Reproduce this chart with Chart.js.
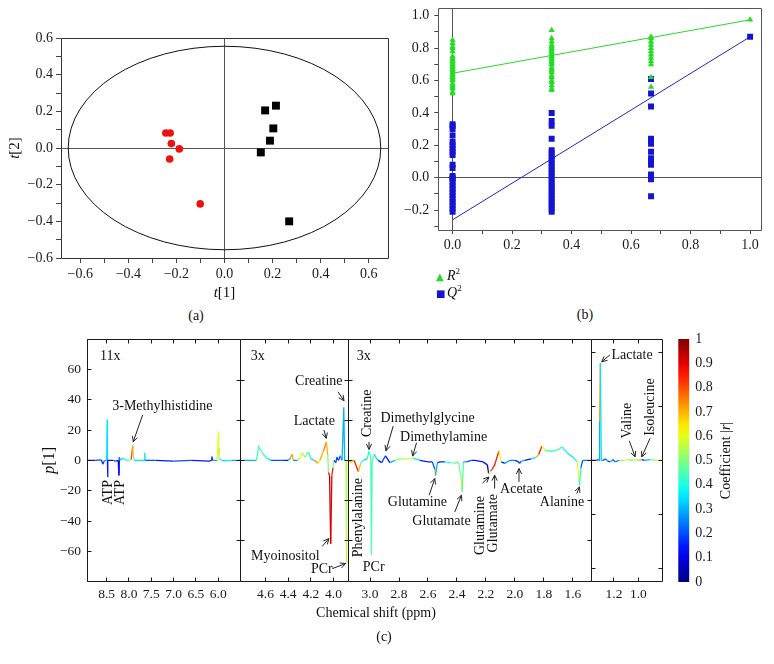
<!DOCTYPE html>
<html><head><meta charset="utf-8"><title>Multivariate analysis figure</title>
<script src="https://cdn.jsdelivr.net/npm/chart.js@4/dist/chart.umd.min.js"></script>
<style>
html,body{margin:0;padding:0;background:#fff}
#wrap{position:relative;width:774px;height:664px;overflow:hidden;background:#fff;font-family:"Liberation Serif","Times New Roman",serif;color:#111}
#wrap canvas{position:absolute}
.t{position:absolute;font-size:14px;line-height:1;white-space:nowrap;transform:translate(-50%,-50%)}
.lg{position:absolute;font-size:14px;line-height:1;white-space:nowrap;transform:translateY(-50%)}
.lg sup{font-size:9px;vertical-align:6px}
</style></head><body>
<div id="wrap">
 <canvas id="cA" width="400" height="300" style="left:0;top:0"></canvas>
 <canvas id="cB" width="384" height="260" style="left:390px;top:0"></canvas>
 <canvas id="cS1" width="774" height="334" style="left:0;top:330px"></canvas>
 <canvas id="cS2" width="774" height="334" style="left:0;top:330px"></canvas>
 <canvas id="cS3" width="774" height="334" style="left:0;top:330px"></canvas>
 <canvas id="cS4" width="774" height="334" style="left:0;top:330px"></canvas>
 <canvas id="cCB" width="80" height="262" style="left:660px;top:330px"></canvas>
 <div class="t" style="left:196px;top:316px">(a)</div>
 <div class="t" style="left:585px;top:315px">(b)</div>
 <div class="lg" style="left:436px;top:275px"><span style="color:#22dd22;font-family:'DejaVu Sans';font-size:10px;display:inline-block;width:11px">&#9650;</span><i>R</i><sup>2</sup></div>
 <div class="lg" style="left:436px;top:292px"><span style="color:#1414d2;font-family:'DejaVu Sans';font-size:10px;display:inline-block;width:11px">&#9632;</span><i>Q</i><sup>2</sup></div>
 <div class="t" style="left:376px;top:613px">Chemical shift (ppm)</div>
 <div class="t" style="left:384px;top:637px">(c)</div>
</div>
<script>
// ---------------- Panel (a): score plot ----------------
const groupRedT1   = [-0.244, -0.226, -0.221, -0.188, -0.228, -0.101];
const groupRedT2   = [0.082, 0.082, 0.024, -0.005, -0.060, -0.305];
const groupBlackT1 = [0.169, 0.214, 0.203, 0.189, 0.151, 0.269];
const groupBlackT2 = [0.205, 0.231, 0.107, 0.040, -0.024, -0.400];
const ellipseRadii = [0.65, 0.555];

// ---------------- Panel (b): permutation test ----------------
const permX   = [0, 0.333, 0.667, 1];
const r2Col0  = [0.52,0.53,0.55,0.56,0.57,0.58,0.60,0.61,0.62,0.63,0.64,0.65,0.66,0.67,0.68,0.69,0.70,0.71,0.72,0.73,0.74,0.75,0.78,0.80,0.81,0.83,0.85];
const r2Col1  = [0.54,0.55,0.57,0.59,0.60,0.62,0.63,0.65,0.66,0.67,0.68,0.70,0.71,0.72,0.73,0.74,0.75,0.76,0.77,0.78,0.79,0.80,0.81,0.82,0.84,0.86,0.91];
const r2Col2  = [0.56,0.62,0.70,0.72,0.74,0.76,0.78,0.80,0.82,0.84,0.86,0.87];
const r2Col3  = [0.975];
const q2Col0  = [-0.21,-0.19,-0.17,-0.15,-0.13,-0.11,-0.09,-0.07,-0.05,-0.03,-0.01,0.00,0.01,0.06,0.08,0.14,0.16,0.18,0.20,0.22,0.26,0.30,0.32,0.33];
const q2Col1  = [-0.21,-0.19,-0.17,-0.15,-0.13,-0.11,-0.09,-0.07,-0.05,-0.03,-0.01,0.01,0.03,0.05,0.07,0.09,0.11,0.13,0.15,0.17,0.24,0.32,0.35,0.40];
const q2Col2  = [-0.115,-0.01,0.01,0.02,0.08,0.10,0.12,0.16,0.21,0.23,0.24,0.44,0.52,0.61];
const q2Col3  = [0.87];
const fitX    = [0, 1];
const r2Fit   = [0.645, 0.975];
const q2Fit   = [-0.26, 0.87];

// ---------------- Panel (c): loadings spectrum, 4 ppm windows ----------------
const seg1Ppm = [8.94,8.75,8.62,8.58,8.55,8.50,8.488,8.482,8.478,8.47,8.35,8.30,8.24,8.225,8.215,8.20,8.14,8.10,8.00,7.95,7.915,7.905,7.88,7.66,7.645,7.635,7.40,7.00,6.60,6.20,6.15,6.14,6.13,6.02,5.995,5.99,5.985,5.975,5.93,5.80,5.70,5.50];
const seg1P   = [0,0,0.3,-2.5,0,0,27,0,-11,0,0,-0.5,0,-10,2,0,1.5,0.5,0,0.5,9.6,3,0,0,5,0,0,-0.5,0,-0.5,0,2.5,0,0,19,4,8,1,0,-0.3,0,0];
const seg1R   = [0.15,0.2,0.15,0.2,0.3,0.35,0.35,0.15,0.15,0.15,0.2,0.15,0.12,0.15,0.25,0.35,0.4,0.4,0.55,0.8,0.7,0.45,0.35,0.35,0.35,0.2,0.15,0.2,0.15,0.15,0.1,0.1,0.3,0.6,0.6,0.65,0.55,0.4,0.35,0.35,0.3,0.3];

const seg2Ppm = [4.82,4.68,4.66,4.62,4.58,4.55,4.45,4.40,4.38,4.365,4.355,4.32,4.29,4.277,4.25,4.232,4.218,4.20,4.17,4.14,4.12,4.09,4.064,4.05,4.045,4.035,4.025,4.015,4.005,3.995,3.98,3.97,3.955,3.94,3.925,3.91,3.902,3.89,3.885,3.87];
const seg2P   = [0,0,9,4,1,0,0,0,1.5,4,0,0,2,5,2,5,5,1,0,-2,0,6,12,3,-8,-10,-55,-10,-5,0,-1.5,2,0,3,0,35,0,0,-67,-67];
const seg2R   = [0.3,0.45,0.45,0.4,0.35,0.2,0.15,0.3,0.75,0.7,0.25,0.55,0.6,0.55,0.5,0.45,0.4,0.35,0.75,0.65,0.7,0.75,0.7,0.5,0.9,0.95,0.9,0.85,0.5,0.15,0.2,0.15,0.2,0.25,0.3,0.3,0.4,0.55,0.55,0.55];

const seg3Ppm = [3.15,3.127,3.11,3.08,3.065,3.047,3.02,3.007,2.995,2.99,2.985,2.97,2.955,2.943,2.92,2.893,2.863,2.828,2.794,2.75,2.702,2.656,2.60,2.57,2.552,2.548,2.535,2.518,2.484,2.44,2.415,2.39,2.37,2.365,2.355,2.335,2.30,2.277,2.22,2.19,2.181,2.17,2.158,2.14,2.11,2.094,2.07,2.036,2.0,1.975,1.967,1.955,1.933,1.887,1.853,1.835,1.814,1.79,1.745,1.70,1.676,1.64,1.60,1.57,1.554,1.545,1.532,1.50,1.47];
const seg3P   = [0,-1.5,0,-7.5,-2,0,1,6,2,-62.6,0,4,1,0,-1.5,3,-1.5,0,1,1,1.5,0,-1,-1,-6,-10,-1.5,-1,-1,-1.5,-2,-1,-12,-20.8,-1,-1,0,0,-1,-3,-9,-7,-6,-3,6.3,-1,-2,0,0,-1,-2,-0.5,0,1,2,4,9.4,6.5,6,7,9,5,2,-1,-16.4,-5,0,0,0];
const seg3R   = [0.7,0.65,0.85,0.7,0.4,0.35,0.4,0.45,0.45,0.45,0.45,0.35,0.3,0.15,0.2,0.15,0.3,0.5,0.55,0.6,0.35,0.15,0.15,0.2,0.7,0.3,0.15,0.15,0.4,0.5,0.45,0.5,0.65,0.45,0.3,0.2,0.15,0.15,0.15,0.1,0.6,0.8,0.85,0.85,0.6,0.15,0.3,0.25,0.15,0.1,0.2,0.3,0.15,0.35,0.7,0.85,0.6,0.45,0.45,0.45,0.4,0.35,0.4,0.6,0.4,0.2,0.25,0.25,0.25];

const seg4Ppm = [1.383,1.35,1.325,1.322,1.318,1.312,1.304,1.29,1.27,1.25,1.23,1.21,1.19,1.16,1.12,1.08,1.05,1.027,1.00,0.972,0.95,0.90,0.85,0.80];
const seg4P   = [0,0,0.5,0,26,64,0,0,1,-0.5,-1,0.5,-1,0,0,0.5,0,0.5,0,0.5,0,0.5,0,0];
const seg4R   = [0.15,0.2,0.3,0.3,0.72,0.35,0.3,0.2,0.25,0.2,0.3,0.2,0.25,0.5,0.6,0.45,0.65,0.5,0.7,0.15,0.3,0.5,0.55,0.55];

const seg1Ticks = [8.5, 8.0, 7.5, 7.0, 6.5, 6.0];
const seg2Ticks = [4.6, 4.4, 4.2, 4.0];
const seg3Ticks = [3.0, 2.8, 2.6, 2.4, 2.2, 2.0, 1.8, 1.6];
const seg4Ticks = [1.2, 1.0];
const innerTicks3x  = [-52.8, -26.4, 0, 26.4, 52.8];
const innerTicksEnd = [-71, -35.5, 0, 35.5, 71];

// metabolite labels (text, ppm, p[1], optional arrow ppm/p from -> to)
const seg1Notes = [
 {t:'11x', x:8.65, y:68.4, align:'left'},
 {t:'3-Methylhistidine', x:7.25, y:35.8, arrow:[7.694,29.9,7.904,12.2]},
 {t:'ATP', x:8.463, y:-21.2, rot:true},
 {t:'ATP', x:8.184, y:-21.2, rot:true}
];
const seg2Notes = [
 {t:'3x', x:4.729, y:68.4, align:'left'},
 {t:'Creatine', x:4.13, y:51.8, arrow:[3.961,45.2,3.908,39.3]},
 {t:'Lactate', x:4.17, y:25.9, arrow:[4.085,20,4.064,14.5]},
 {t:'Myoinositol', x:4.425, y:-63, arrow:[4.1,-56.7,4.041,-51.6]},
 {t:'PCr', x:4.103, y:-72, arrow:[4.011,-71.4,3.893,-68]}
];
const seg3Notes = [
 {t:'3x', x:3.092, y:68.4, align:'left'},
 {t:'Phenylalanine', x:3.081, y:-37.8, rot:true},
 {t:'Creatine', x:3.019, y:31, rot:true, arrow:[3.007,12.2,3.007,7.2]},
 {t:'PCr', x:2.975, y:-70.3},
 {t:'Dimethylglycine', x:2.603, y:27.7, arrow:[2.84,22.6,2.89,6.3]},
 {t:'Dimethylamine', x:2.492, y:15.5, arrow:[2.679,11.6,2.706,2.8]},
 {t:'Glutamine', x:2.673, y:-27.4, arrow:[2.592,-23,2.553,-12]},
 {t:'Glutamate', x:2.507, y:-40, arrow:[2.415,-34,2.369,-23]},
 {t:'Glutamine', x:2.238, y:-43, rot:true, arrow:[2.224,-15,2.179,-11]},
 {t:'Glutamate', x:2.151, y:-41.5, rot:true, arrow:[2.14,-18.6,2.14,-9.8]},
 {t:'Acetate', x:1.955, y:-19.2, arrow:[1.972,-14.2,1.972,-5.4]},
 {t:'Alanine', x:1.675, y:-28, arrow:[1.573,-21.9,1.554,-17.5]}
];
const seg4Notes = [
 {t:'Lactate', x:1.052, y:69.5, arrow:[1.233,69.5,1.301,65]},
 {t:'Valine', x:1.087, y:26.2, rot:true, arrow:[1.074,12.9,1.027,2.3]},
 {t:'Isoleucine', x:0.904, y:35.1, rot:true, arrow:[0.904,14.5,0.972,2.3]}
];
const colorbarRange = [[0, 1]];

// ---------------- setup ----------------
const FONT = '"Liberation Serif","Times New Roman",serif';
Chart.defaults.font.family = FONT;
Chart.defaults.font.size = 14;
Chart.defaults.color = '#1a1a1a';
Chart.defaults.animation = false;
Chart.defaults.responsive = false;
Chart.defaults.maintainAspectRatio = false;
Chart.defaults.devicePixelRatio = 1;
Chart.defaults.plugins.legend.display = false;
Chart.defaults.plugins.tooltip.enabled = false;
Chart.defaults.events = [];

function jet(v){
  v = Math.max(0, Math.min(1, v));
  const f = t => Math.round(255 * Math.max(0, Math.min(1, 1.5 - Math.abs(t))));
  return 'rgb(' + f(4*v-3) + ',' + f(4*v-2) + ',' + f(4*v-1) + ')';
}
function minusFmt(v, d){ const s = Math.abs(v).toFixed(d); return (v < -1e-9 ? '\u2212' : '') + s; }
function evenTenths(v){ const k = Math.round(v*10); return k % 2 === 0 ? minusFmt(k/10, 1) : ''; }
function zeroLine(col){ return c => (c.tick && Math.abs(c.tick.value) < 1e-9) ? col : 'rgba(0,0,0,0)'; }
function fixSize(w, h){
  return s => {
    if (w !== null) s.width = w;
    if (h !== null) s.height = h;
    s.paddingTop = 0; s.paddingBottom = 0; s.paddingLeft = 0; s.paddingRight = 0;
  };
}
function drawParts(ctx, parts, x, y, rot, size){
  ctx.save(); ctx.translate(x, y); if (rot) ctx.rotate(-Math.PI/2);
  ctx.textBaseline = 'middle'; ctx.textAlign = 'left'; ctx.fillStyle = '#111';
  let w = 0;
  parts.forEach(p => { ctx.font = (p.i ? 'italic ' : '') + size + 'px ' + FONT; w += ctx.measureText(p.t).width; });
  let cx = -w/2;
  parts.forEach(p => { ctx.font = (p.i ? 'italic ' : '') + size + 'px ' + FONT; ctx.fillText(p.t, cx, 0); cx += ctx.measureText(p.t).width; });
  ctx.restore();
}
function frameTicks(o){
  return {id:'frameTicks', afterDatasetsDraw(chart){
    const {ctx, chartArea:a, scales} = chart; const L = o.len || 4;
    ctx.save(); ctx.strokeStyle = o.color || '#222'; ctx.lineWidth = 1;
    const l = Math.floor(a.left) + 0.5, r = Math.floor(a.right) + 0.5, t = Math.floor(a.top) + 0.5, b = Math.floor(a.bottom) + 0.5;
    ctx.beginPath(); ctx.rect(l, t, r - l, b - t);
    if (o.xTicks) scales.x.ticks.forEach(tk => { const px = Math.floor(scales.x.getPixelForValue(tk.value)) + 0.5; ctx.moveTo(px, b); ctx.lineTo(px, b - L); ctx.moveTo(px, t); ctx.lineTo(px, t + L); });
    const yv = arr => arr === 'scale' ? scales.y.ticks.map(tk => tk.value) : (arr || []);
    yv(o.left).forEach(v => { const py = Math.floor(scales.y.getPixelForValue(v)) + 0.5; ctx.moveTo(l, py); ctx.lineTo(l + L, py); });
    yv(o.right).forEach(v => { const py = Math.floor(scales.y.getPixelForValue(v)) + 0.5; ctx.moveTo(r, py); ctx.lineTo(r - L, py); });
    ctx.stroke(); ctx.restore();
  }};
}
function titles(items){
  return {id:'titles', afterDraw(chart){
    const a = chart.chartArea, ctx = chart.ctx;
    items.forEach(it => {
      let x, y;
      if (it.side === 'bottom') { x = (a.left + a.right)/2; y = a.bottom + it.off; }
      else if (it.side === 'left') { x = a.left - it.off; y = (a.top + a.bottom)/2; }
      else { x = a.right + it.off; y = (a.top + a.bottom)/2; }
      drawParts(ctx, it.parts, x, y, it.side !== 'bottom', it.size || 15);
    });
  }};
}
function annotations(items){
  return {id:'annot', afterDatasetsDraw(chart){
    const {ctx} = chart, xs = chart.scales.x, ys = chart.scales.y;
    ctx.save(); ctx.fillStyle = '#111'; ctx.strokeStyle = '#222'; ctx.lineWidth = 1;
    ctx.font = '14px ' + FONT; ctx.textBaseline = 'middle';
    items.forEach(it => {
      const px = xs.getPixelForValue(it.x), py = ys.getPixelForValue(it.y);
      ctx.save(); ctx.translate(px, py); if (it.rot) ctx.rotate(-Math.PI/2);
      ctx.textAlign = it.align || 'center'; ctx.fillText(it.t, 0, 0); ctx.restore();
      if (it.arrow) {
        const x1 = xs.getPixelForValue(it.arrow[0]), y1 = ys.getPixelForValue(it.arrow[1]);
        const x2 = xs.getPixelForValue(it.arrow[2]), y2 = ys.getPixelForValue(it.arrow[3]);
        const ang = Math.atan2(y2 - y1, x2 - x1), h = 6, w = 0.45;
        ctx.beginPath(); ctx.moveTo(x1, y1); ctx.lineTo(x2, y2);
        ctx.moveTo(x2 - h*Math.cos(ang - w), y2 - h*Math.sin(ang - w)); ctx.lineTo(x2, y2);
        ctx.lineTo(x2 - h*Math.cos(ang + w), y2 - h*Math.sin(ang + w));
        ctx.stroke();
      }
    });
    ctx.restore();
  }};
}
const ellipsePlugin = {id:'ellipse', beforeDatasetsDraw(chart){
  const {ctx} = chart, xs = chart.scales.x, ys = chart.scales.y;
  const cx = xs.getPixelForValue(0), cy = ys.getPixelForValue(0);
  const rx = xs.getPixelForValue(ellipseRadii[0]) - cx, ry = cy - ys.getPixelForValue(ellipseRadii[1]);
  ctx.save(); ctx.strokeStyle = '#111'; ctx.lineWidth = 1; ctx.beginPath(); ctx.ellipse(cx, cy, rx, ry, 0, 0, 2*Math.PI); ctx.stroke(); ctx.restore();
}};

function axisOpts(min, max, fitFn, step){
  return {type:'linear', min, max, afterFit:fitFn, border:{display:false},
    grid:{color:zeroLine('#555'), lineWidth:1, tickColor:'#444', tickLength:5, drawTicks:true},
    ticks:{stepSize:step, includeBounds:false, autoSkip:false, maxRotation:0, padding:3, color:'#1a1a1a', callback:evenTenths}};
}

// ---------------- Panel (a) ----------------
new Chart(document.getElementById('cA'), {
  type:'scatter',
  data:{datasets:[
    {label:'Group 1', data:groupRedT1.map((v,i)=>({x:v, y:groupRedT2[i]})), pointStyle:'circle', pointRadius:3.8, backgroundColor:'#ee1111', borderColor:'#ee1111', borderWidth:0},
    {label:'Group 2', data:groupBlackT1.map((v,i)=>({x:v, y:groupBlackT2[i]})), pointStyle:'rect', pointRadius:5.6, backgroundColor:'#000', borderColor:'#000', borderWidth:0}
  ]},
  options:{
    layout:{padding:{left:6, right:12, top:38, bottom:7}},
    scales:{x:axisOpts(-0.68, 0.68, fixSize(null, 35), 0.1), y:axisOpts(-0.6, 0.6, fixSize(55, null), 0.1)}
  },
  plugins:[ellipsePlugin, frameTicks({color:'#333'}), titles([
    {side:'bottom', off:35, parts:[{t:'t', i:true},{t:'[1]'}]},
    {side:'left', off:46, parts:[{t:'t', i:true},{t:'[2]'}]}
  ])]
});

// ---------------- Panel (b) ----------------
const colPts = (cols) => cols.flatMap((col, j) => col.map(v => ({x:permX[j], y:v})));
const bx = axisOpts(-0.048, 1.039, fixSize(null, 22), 0.1); bx.grid.tickLength = 4;
const by = axisOpts(-0.323, 1.046, fixSize(46, null), 0.1); by.grid.tickLength = 4; by.ticks.padding = 5;
new Chart(document.getElementById('cB'), {
  type:'scatter',
  data:{datasets:[
    {label:'R2', data:colPts([r2Col0, r2Col1, r2Col2, r2Col3]), pointStyle:'triangle', pointRadius:3.6, backgroundColor:'#22dd22', borderColor:'#22dd22', borderWidth:0},
    {label:'Q2', data:colPts([q2Col0, q2Col1, q2Col2, q2Col3]), pointStyle:'rect', pointRadius:4.2, backgroundColor:'#1414d2', borderColor:'#1414d2', borderWidth:0},
    {label:'R2 fit', data:fitX.map((v,i)=>({x:v, y:r2Fit[i]})), showLine:true, pointRadius:0, borderColor:'#2fd52f', borderWidth:1},
    {label:'Q2 fit', data:fitX.map((v,i)=>({x:v, y:q2Fit[i]})), showLine:true, pointRadius:0, borderColor:'#2525c8', borderWidth:1}
  ]},
  options:{layout:{padding:{left:2.3, right:12.3, top:8.3, bottom:8}}, scales:{x:bx, y:by}},
  plugins:[frameTicks({color:'#555'})]
});

// ---------------- Panel (c) ----------------
function makeSeg(id, ppm, p, r, cfg){
  const data = ppm.map((v,i)=>({x:v, y:p[i]}));
  const plugins = [frameTicks({xTicks:true, left:cfg.left, right:cfg.right, color:'#1a1a1a', len:4}), annotations(cfg.notes)];
  if (cfg.titles) plugins.push(titles(cfg.titles));
  return new Chart(document.getElementById(id), {
    type:'line',
    data:{datasets:[{data, borderWidth:1.3, pointRadius:0, tension:0, fill:false, borderColor:jet(0.3),
      segment:{borderColor: c => jet(r[c.p0DataIndex])}}]},
    options:{
      layout:{padding:{left:cfg.padL, right:cfg.padR, top:9, bottom:58.3}},
      scales:{
        x:{type:'linear', reverse:true, min:cfg.min, max:cfg.max, afterFit:fixSize(null, 24),
           afterBuildTicks:s=>{ s.ticks = cfg.ticks.map(v=>({value:v})); },
           grid:{display:false, drawTicks:false}, border:{display:false},
           ticks:{autoSkip:false, maxRotation:0, padding:5, font:{size:13.5}, callback:v=>v.toFixed(1)}},
        y:{type:'linear', min:-80, max:80, display:cfg.showY, afterFit:fixSize(cfg.showY ? 45 : 0, null),
           grid:{display:false, drawTicks:false}, border:{display:false},
           ticks:{stepSize:20, padding:6, font:{size:13.5}, callback:v=>Math.abs(v) >= 80 ? '' : minusFmt(v, 0)}}
      }
    },
    plugins
  });
}
makeSeg('cS1', seg1Ppm, seg1P, seg1R, {min:5.50, max:8.94, ticks:seg1Ticks, padL:42, padR:533.5, showY:true, left:'scale', right:innerTicks3x, notes:seg1Notes,
  titles:[{side:'left', off:37, size:16, parts:[{t:'p', i:true},{t:'[1]'}]}]});
makeSeg('cS2', seg2Ppm, seg2P, seg2R, {min:3.87, max:4.82, ticks:seg2Ticks, padL:240.5, padR:425.7, showY:false, left:innerTicks3x, right:innerTicks3x, notes:seg2Notes});
makeSeg('cS3', seg3Ppm, seg3P, seg3R, {min:1.47, max:3.15, ticks:seg3Ticks, padL:348.3, padR:182.3, showY:false, left:innerTicks3x, right:innerTicks3x, notes:seg3Notes});
makeSeg('cS4', seg4Ppm, seg4P, seg4R, {min:0.80, max:1.383, ticks:seg4Ticks, padL:591.7, padR:111.3, showY:false, left:innerTicksEnd, right:innerTicksEnd, notes:seg4Notes});

// ---------------- Colour bar ----------------
new Chart(document.getElementById('cCB'), {
  type:'bar',
  data:{labels:['|r|'], datasets:[{data:colorbarRange, borderWidth:0, barPercentage:1, categoryPercentage:1,
    backgroundColor: c => {
      const a = c.chart.chartArea; if (!a) return jet(0.5);
      const g = c.chart.ctx.createLinearGradient(0, a.bottom, 0, a.top);
      for (let i = 0; i <= 20; i++) g.addColorStop(i/20, jet(i/20));
      return g;
    }}]},
  options:{
    layout:{padding:{left:18.3, right:0, top:9, bottom:10}},
    scales:{
      x:{display:false},
      y:{position:'right', min:0, max:1, afterFit:fixSize(50.7, null), grid:{display:false, drawTicks:false}, border:{display:false},
         ticks:{stepSize:0.1, padding:6, callback:v=>{ const k = Math.round(v*10); return k === 0 ? '0' : k === 10 ? '1' : (k/10).toFixed(1); }}}
    }
  },
  plugins:[titles([{side:'right', off:37.4, size:14, parts:[{t:'Coefficient |'},{t:'r', i:true},{t:'|'}]}])]
});
</script>
</body></html>
